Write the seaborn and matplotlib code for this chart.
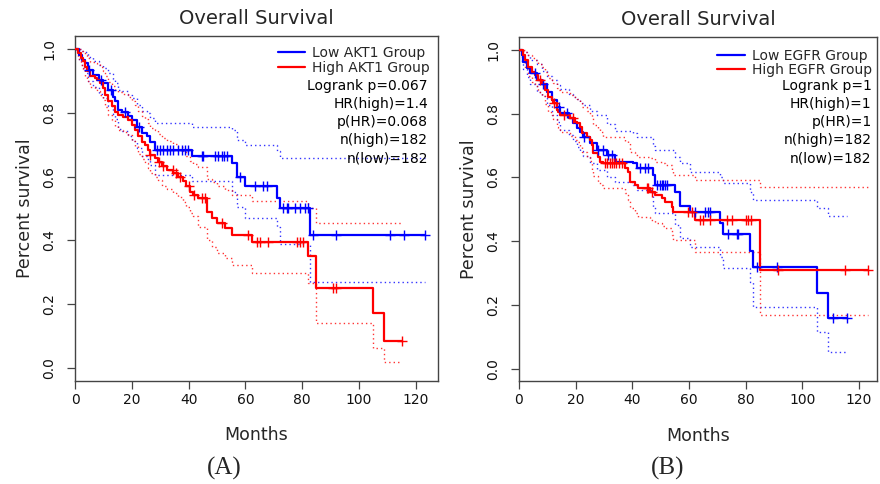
import numpy as np
import pandas as pd
import matplotlib
matplotlib.use("Agg")
import matplotlib.pyplot as plt
import seaborn as sns

# ---------------- AKT1 panel ----------------
akt1_low_time = [0, 1.4, 2.3, 3.5, 4.7, 6.4, 8.6, 10.0, 11.7, 13.3, 14.1, 15.3, 16.4, 18.8,
                 20.0, 21.7, 23.5, 25.2, 26.4, 28.2, 41.1, 55.2, 56.9, 59.9, 71.2, 72.2, 82.7]
akt1_low_surv = [1.0, .982, .966, .956, .935, .919, .904, .893, .872, .851, .836, .810, .804, .789,
                 .778, .757, .736, .726, .710, .684, .665, .642, .598, .572, .532, .503, .417]
akt1_low_upper = [1.0, 1.0, .995, .99, .975, .963, .95, .94, .925, .905, .895, .873, .868, .855,
                  .845, .826, .807, .798, .784, .768, .755, .747, .715, .70, .68, .658, .658]
akt1_low_lower = [1.0, .962, .94, .926, .90, .88, .86, .848, .822, .797, .78, .75, .743, .727,
                  .713, .69, .665, .655, .637, .606, .585, .553, .506, .47, .443, .39, .269]
akt1_low_censor = [5.0, 9.2, 12.5, 17.5, 22.5, 28.8, 29.9, 31.1, 32.3, 33.5, 34.6, 36.4, 37.6,
                   38.7, 39.9, 44.6, 45.2, 49.3, 50.5, 51.7, 52.5, 53.4, 58.1, 63.4, 66.3, 67.5,
                   73.3, 74.5, 75.1, 77.5, 79.2, 81.0, 82.2, 83.9, 91.9, 110.9, 115.8, 123.2]

akt1_high_time = [0, 1.2, 2.0, 2.7, 3.5, 4.1, 5.3, 7.0, 7.6, 8.8, 10.0, 10.6, 11.7, 12.9, 14.1,
                  15.2, 17.0, 18.8, 20.0, 21.1, 22.3, 23.5, 24.6, 25.8, 26.4, 28.2, 29.3, 30.5,
                  32.3, 34.6, 36.4, 38.1, 39.1, 40.5, 41.7, 43.4, 46.4, 48.1, 49.9, 52.8, 55.2,
                  62.2, 82.2, 84.9, 105.0, 108.9]
akt1_high_surv = [1.0, .987, .972, .961, .945, .930, .914, .909, .904, .893, .878, .857, .836,
                  .820, .804, .794, .787, .778, .762, .747, .726, .710, .700, .684, .668, .658,
                  .647, .632, .621, .611, .600, .585, .569, .553, .543, .532, .490, .470, .454,
                  .438, .417, .396, .351, .252, .172, .086]
akt1_high_upper = [1.0, 1.0, .995, .99, .98, .972, .96, .956, .952, .944, .932, .915, .898, .885,
                   .872, .864, .858, .85, .836, .823, .805, .79, .782, .768, .753, .745, .735,
                   .721, .712, .703, .693, .68, .665, .65, .641, .63, .592, .582, .572, .558,
                   .543, .522, .501, .454, .456, .456]
akt1_high_lower = [1.0, .97, .95, .937, .917, .90, .882, .876, .87, .856, .84, .817, .794, .776,
                   .758, .747, .739, .729, .711, .695, .672, .655, .644, .627, .61, .60, .588,
                   .572, .56, .549, .537, .521, .504, .487, .476, .443, .40, .38, .36, .345,
                   .323, .299, .266, .142, .062, .018]
akt1_high_censor = [26.5, 29.5, 31.0, 34.5, 35.5, 37.0, 40.0, 42.0, 44.6, 45.8, 51.6, 61.0,
                    64.0, 65.1, 68.1, 78.1, 79.2, 80.4, 91.0, 91.9, 115.0]

akt1_stats = ["Logrank p=0.067", "HR(high)=1.4", "p(HR)=0.068", "n(high)=182", "n(low)=182"]

# ---------------- EGFR panel ----------------
egfr_low_time = [0, 1.0, 1.5, 2.7, 3.9, 6.2, 8.0, 9.8, 11.5, 13.3, 14.5, 17.5, 19.2, 20.4, 21.5,
                 22.7, 25.1, 27.4, 31.0, 33.9, 40.3, 41.5, 47.4, 48.0, 55.1, 57.0, 60.4, 70.9,
                 72.1, 81.5, 82.7, 105.1, 109.2]
egfr_low_surv = [1.0, .984, .963, .945, .927, .906, .895, .869, .843, .822, .801, .786, .770,
                 .754, .742, .728, .707, .686, .671, .650, .644, .629, .608, .576, .555, .510,
                 .493, .456, .423, .370, .320, .237, .158]
egfr_low_upper = [1.0, 1.0, .995, .985, .968, .955, .935, .918, .905, .89, .877, .862, .853,
                  .845, .835, .826, .81, .795, .768, .745, .739, .728, .70, .686, .665, .645,
                  .618, .60, .582, .555, .529, .503, .479]
egfr_low_lower = [1.0, .962, .94, .915, .895, .868, .855, .826, .797, .773, .75, .733, .714,
                  .697, .684, .668, .646, .622, .603, .585, .578, .56, .508, .488, .45, .409,
                  .383, .35, .315, .273, .195, .116, .053]
egfr_low_censor = [5.5, 8.5, 14.0, 17.0, 23.0, 28.0, 29.5, 31.5, 33.0, 42.7, 44.5, 45.6, 48.6,
                   49.8, 50.4, 50.9, 51.5, 52.1, 62.1, 65.7, 66.8, 67.4, 73.9, 76.8, 77.4,
                   83.9, 91.0, 110.9, 115.9]

egfr_high_time = [0, 1.3, 2.1, 3.3, 4.5, 5.6, 6.8, 8.0, 9.2, 10.3, 11.5, 12.1, 13.3, 13.9, 14.5,
                  18.0, 19.8, 20.4, 21.5, 22.1, 23.9, 25.1, 25.7, 26.2, 28.0, 28.6, 29.8, 37.4,
                  38.6, 39.2, 40.9, 42.1, 46.2, 48.0, 50.4, 51.5, 53.9, 54.5, 62.1, 85.1]
egfr_high_surv = [1.0, .984, .968, .948, .932, .922, .906, .895, .874, .853, .843, .833, .812,
                  .806, .796, .786, .775, .770, .759, .739, .728, .718, .702, .676, .665, .650,
                  .644, .629, .618, .587, .576, .566, .555, .545, .535, .524, .508, .493, .467,
                  .310]
egfr_high_upper = [1.0, 1.0, .995, .985, .975, .968, .955, .947, .93, .913, .905, .897, .88,
                   .875, .867, .858, .85, .845, .836, .82, .81, .80, .786, .765, .756, .742,
                   .728, .715, .707, .681, .671, .665, .66, .65, .645, .639, .624, .608, .592,
                   .571]
egfr_high_lower = [1.0, .967, .945, .92, .90, .888, .868, .855, .83, .806, .795, .784, .76,
                   .752, .742, .73, .718, .712, .70, .68, .665, .652, .625, .605, .585, .577,
                   .568, .55, .53, .505, .49, .477, .468, .458, .448, .44, .418, .404, .367,
                   .168]
egfr_high_censor = [7.5, 12.5, 16.0, 19.0, 30.4, 31.2, 32.0, 32.8, 33.6, 34.4, 35.3, 36.2,
                    45.1, 45.6, 46.8, 59.8, 61.0, 63.9, 65.1, 67.4, 73.3, 75.1, 80.1, 80.9,
                    81.8, 91.5, 115.1, 123.3]

egfr_stats = ["Logrank p=1", "HR(high)=1", "p(HR)=1", "n(high)=182", "n(low)=182"]

months_ticks = [0, 20, 40, 60, 80, 100, 120]
survival_ticks = [0.0, 0.2, 0.4, 0.6, 0.8, 1.0]

LOW_COLOR = "#0000FF"
HIGH_COLOR = "#FF0000"

sns.set_style("ticks")
plt.rcParams["font.family"] = ["DejaVu Sans"]


def step_frame(time, values, end, label, unit="curve"):
    t = list(time) + [end]
    v = list(values) + [values[-1]]
    return pd.DataFrame({"Months": t, "value": v, "group": label, "band": unit})


def surv_at(time, surv, points):
    idx = np.searchsorted(np.asarray(time), np.asarray(points), side="right") - 1
    return np.asarray(surv)[idx]


def draw_panel(ax, groups, xmax, stats, legend_anchor, stat_x, stat_y0, stat_dy):
    labels = [g["label"] for g in groups]
    palette = {g["label"]: g["color"] for g in groups}

    bands = pd.concat(
        [step_frame(g["time"], g["upper"], g["end"], g["label"], g["label"] + "_up") for g in groups]
        + [step_frame(g["time"], g["lower"], g["end"], g["label"], g["label"] + "_lo") for g in groups],
        ignore_index=True)
    curves = pd.concat(
        [step_frame(g["time"], g["surv"], g["end"], g["label"]) for g in groups],
        ignore_index=True)

    sns.lineplot(data=bands, x="Months", y="value", hue="group", units="band",
                 hue_order=labels, palette=palette, estimator=None,
                 drawstyle="steps-post", linestyle=(0, (1, 2.2)), linewidth=1.0,
                 alpha=0.8, legend=False, ax=ax, zorder=2)
    sns.lineplot(data=curves, x="Months", y="value", hue="group", hue_order=labels,
                 palette=palette, estimator=None, drawstyle="steps-post",
                 linewidth=1.6, ax=ax, zorder=3)

    for g in groups:
        c = np.asarray(g["censor"])
        sns.scatterplot(x=c, y=surv_at(g["time"], g["surv"], c), marker="+", s=60,
                        color=g["color"], linewidth=1.0, legend=False, ax=ax, zorder=4)

    leg = ax.get_legend()
    handles = leg.legend_handles
    texts = [t.get_text() for t in leg.get_texts()]
    for h in handles:
        h.set_linewidth(1.6)
    ax.legend(handles, texts, loc="upper right", bbox_to_anchor=legend_anchor,
              frameon=False, fontsize=10, handlelength=2.0, handletextpad=0.5,
              borderaxespad=0, borderpad=0, labelspacing=0.05)

    for i, line in enumerate(stats):
        ax.text(stat_x, stat_y0 - i * stat_dy, line, ha="right", va="center",
                fontsize=10, color="black", transform=ax.transAxes)

    ax.set_xlim(0, xmax)
    ax.set_ylim(-0.04, 1.04)
    ax.set_xticks(months_ticks)
    ax.set_yticks(survival_ticks)
    ax.set_yticklabels([f"{v:.1f}" for v in survival_ticks])
    ax.tick_params(axis="both", direction="out", length=5.5, width=0.9, color="#444444",
                   labelsize=10, labelcolor="#111111")
    ax.tick_params(axis="x", pad=3)
    ax.tick_params(axis="y", pad=8, labelrotation=90)
    for lab in ax.get_yticklabels():
        lab.set_va("center")
    for sp in ax.spines.values():
        sp.set_visible(True)
        sp.set_color("#444444")
        sp.set_linewidth(1.0)
    ax.set_title("Overall Survival", fontsize=14, pad=8.5)
    ax.set_xlabel("Months", fontsize=12.5, labelpad=14)
    ax.set_ylabel("Percent survival", fontsize=12.5, labelpad=6)


fig = plt.figure(figsize=(8.8, 4.84), dpi=100)
ax_a = fig.add_axes([0.08523, 0.21343, 0.41216, 0.71157])
ax_b = fig.add_axes([0.58977, 0.21198, 0.40682, 0.71095])

draw_panel(
    ax_a,
    [dict(label="Low AKT1 Group", color=LOW_COLOR, time=akt1_low_time, surv=akt1_low_surv,
          upper=akt1_low_upper, lower=akt1_low_lower, censor=akt1_low_censor, end=123.2),
     dict(label="High AKT1 Group", color=HIGH_COLOR, time=akt1_high_time, surv=akt1_high_surv,
          upper=akt1_high_upper, lower=akt1_high_lower, censor=akt1_high_censor, end=115.0)],
    xmax=127.7, stats=akt1_stats, legend_anchor=(0.979, 0.972),
    stat_x=0.973, stat_y0=0.8566, stat_dy=0.0526)

draw_panel(
    ax_b,
    [dict(label="Low EGFR Group", color=LOW_COLOR, time=egfr_low_time, surv=egfr_low_surv,
          upper=egfr_low_upper, lower=egfr_low_lower, censor=egfr_low_censor, end=115.9),
     dict(label="High EGFR Group", color=HIGH_COLOR, time=egfr_high_time, surv=egfr_high_surv,
          upper=egfr_high_upper, lower=egfr_high_lower, censor=egfr_high_censor, end=123.3)],
    xmax=126.4, stats=egfr_stats, legend_anchor=(0.986, 0.967),
    stat_x=0.985, stat_y0=0.8585, stat_dy=0.0526)

fig.text(0.2545, 0.033, "(A)", family="Liberation Serif", fontsize=18, ha="center", va="center")
fig.text(0.759, 0.033, "(B)", family="Liberation Serif", fontsize=18, ha="center", va="center")

fig.savefig("out.png", dpi=100)
